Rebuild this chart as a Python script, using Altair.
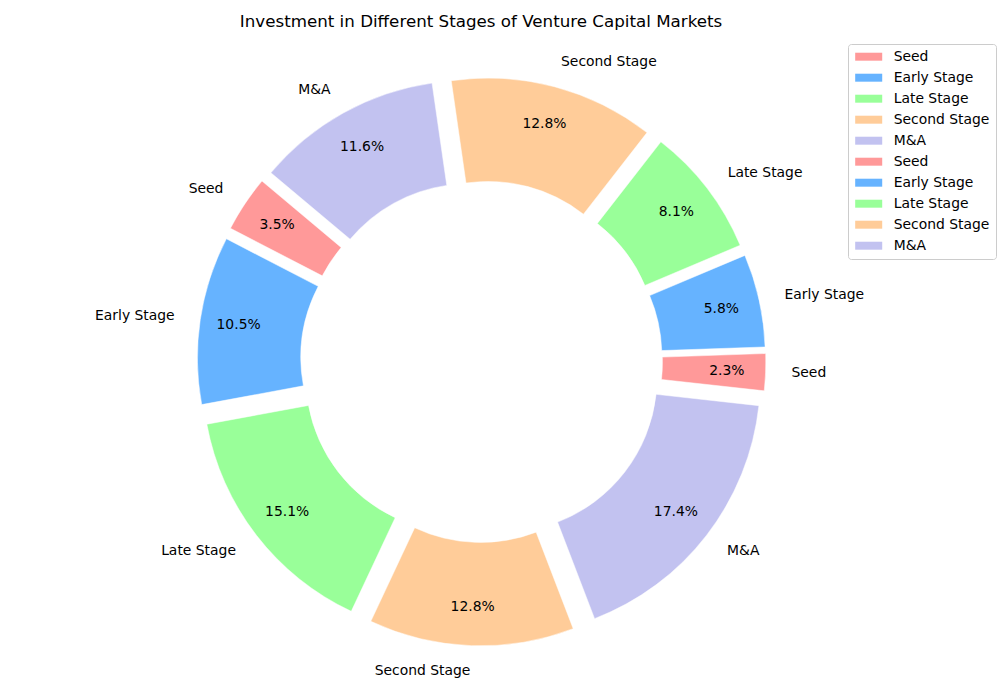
import math
import altair as alt
import pandas as pd

# ---- data ----
stages = ["Seed", "Early Stage", "Late Stage", "Second Stage", "M&A",
          "Seed", "Early Stage", "Late Stage", "Second Stage", "M&A"]
shares = [2.3, 5.8, 8.1, 12.8, 11.6, 3.5, 10.5, 15.1, 12.8, 17.4]
palette = ["#ff9999", "#66b3ff", "#99ff99", "#ffcc99", "#c2c2f0",
           "#ff9999", "#66b3ff", "#99ff99", "#ffcc99", "#c2c2f0"]
title_text = "Investment in Different Stages of Venture Capital Markets"

keys = [f"{i}:{s}" for i, s in enumerate(stages)]
df = pd.DataFrame({"idx": list(range(len(stages))), "stage": stages,
                   "share": shares, "key": keys})

# ---- layout ----
W, H = 1000, 700
CX, CY = 481.5, 361.5
R = 258.5
R_IN = 0.6 * R
EXPLODE = 0.1 * R
START_DEG = -6.3
start_rad = math.radians(START_DEG)
theta0 = math.pi / 2 - start_rad
FONT = "DejaVu Sans"

base = alt.Chart(df).transform_joinaggregate(
    total="sum(share)"
).transform_window(
    cum="sum(share)", sort=[alt.SortField("idx")], frame=[None, 0]
).transform_calculate(
    ang=f"{start_rad} + 2*PI*(datum.cum - datum.share/2)/datum.total"
).transform_calculate(
    ox=f"{CX} + {EXPLODE}*cos(datum.ang)",
    oy=f"{CY} - {EXPLODE}*sin(datum.ang)",
    px=f"{CX} + {EXPLODE + 0.85 * R}*cos(datum.ang)",
    py=f"{CY} - {EXPLODE + 0.85 * R}*sin(datum.ang)",
    lx=f"{CX} + {EXPLODE + 1.1 * R}*cos(datum.ang)",
    ly=f"{CY} - {EXPLODE + 1.1 * R}*sin(datum.ang)",
    pct="format(100*datum.share/datum.total, '.1f') + '%'",
)

arcs = base.mark_arc(outerRadius=R, innerRadius=R_IN, stroke="white", strokeWidth=0.5).encode(
    theta=alt.Theta("share:Q", stack=True,
                    scale=alt.Scale(range=[theta0, theta0 - 2 * math.pi])),
    order=alt.Order("idx:Q"),
    x=alt.X("ox:Q", scale=None),
    y=alt.Y("oy:Q", scale=None),
    color=alt.Color(
        "key:N",
        scale=alt.Scale(domain=keys, range=palette),
        sort=keys,
        legend=alt.Legend(
            title=None, orient="none", legendX=848, legendY=44,
            labelExpr="split(datum.label, ':')[1]",
            symbolType="M-1.93,-0.57L1.93,-0.57L1.93,0.57L-1.93,0.57Z",
            symbolSize=196, symbolStrokeWidth=0, symbolOpacity=1,
            symbolOffset=8,
            labelFont=FONT, labelFontSize=13.9, labelColor="black",
            labelOffset=18, rowPadding=7, padding=5.7,
            strokeColor="#cccccc", fillColor="white", cornerRadius=3,
        ),
    ),
)

pct_labels = base.mark_text(font=FONT, fontSize=13.9, color="black",
                            baseline="middle", align="center").encode(
    x=alt.X("px:Q", scale=None), y=alt.Y("py:Q", scale=None), text="pct:N")

right_labels = base.transform_filter("cos(datum.ang) > 0").mark_text(
    font=FONT, fontSize=13.9, color="black", baseline="middle", align="left"
).encode(x=alt.X("lx:Q", scale=None), y=alt.Y("ly:Q", scale=None), text="stage:N")

left_labels = base.transform_filter("cos(datum.ang) <= 0").mark_text(
    font=FONT, fontSize=13.9, color="black", baseline="middle", align="right"
).encode(x=alt.X("lx:Q", scale=None), y=alt.Y("ly:Q", scale=None), text="stage:N")

title = alt.Chart(pd.DataFrame({"t": [title_text]})).mark_text(
    font=FONT, fontSize=16.7, color="black", baseline="middle", align="center"
).encode(x=alt.value(481), y=alt.value(22), text="t:N")

chart = alt.layer(arcs, pct_labels, right_labels, left_labels, title).properties(
    width=W, height=H, padding=0, autosize="none"
).configure_view(stroke=None)

chart.save("out.html", embed_options={"renderer": "svg", "actions": False})
